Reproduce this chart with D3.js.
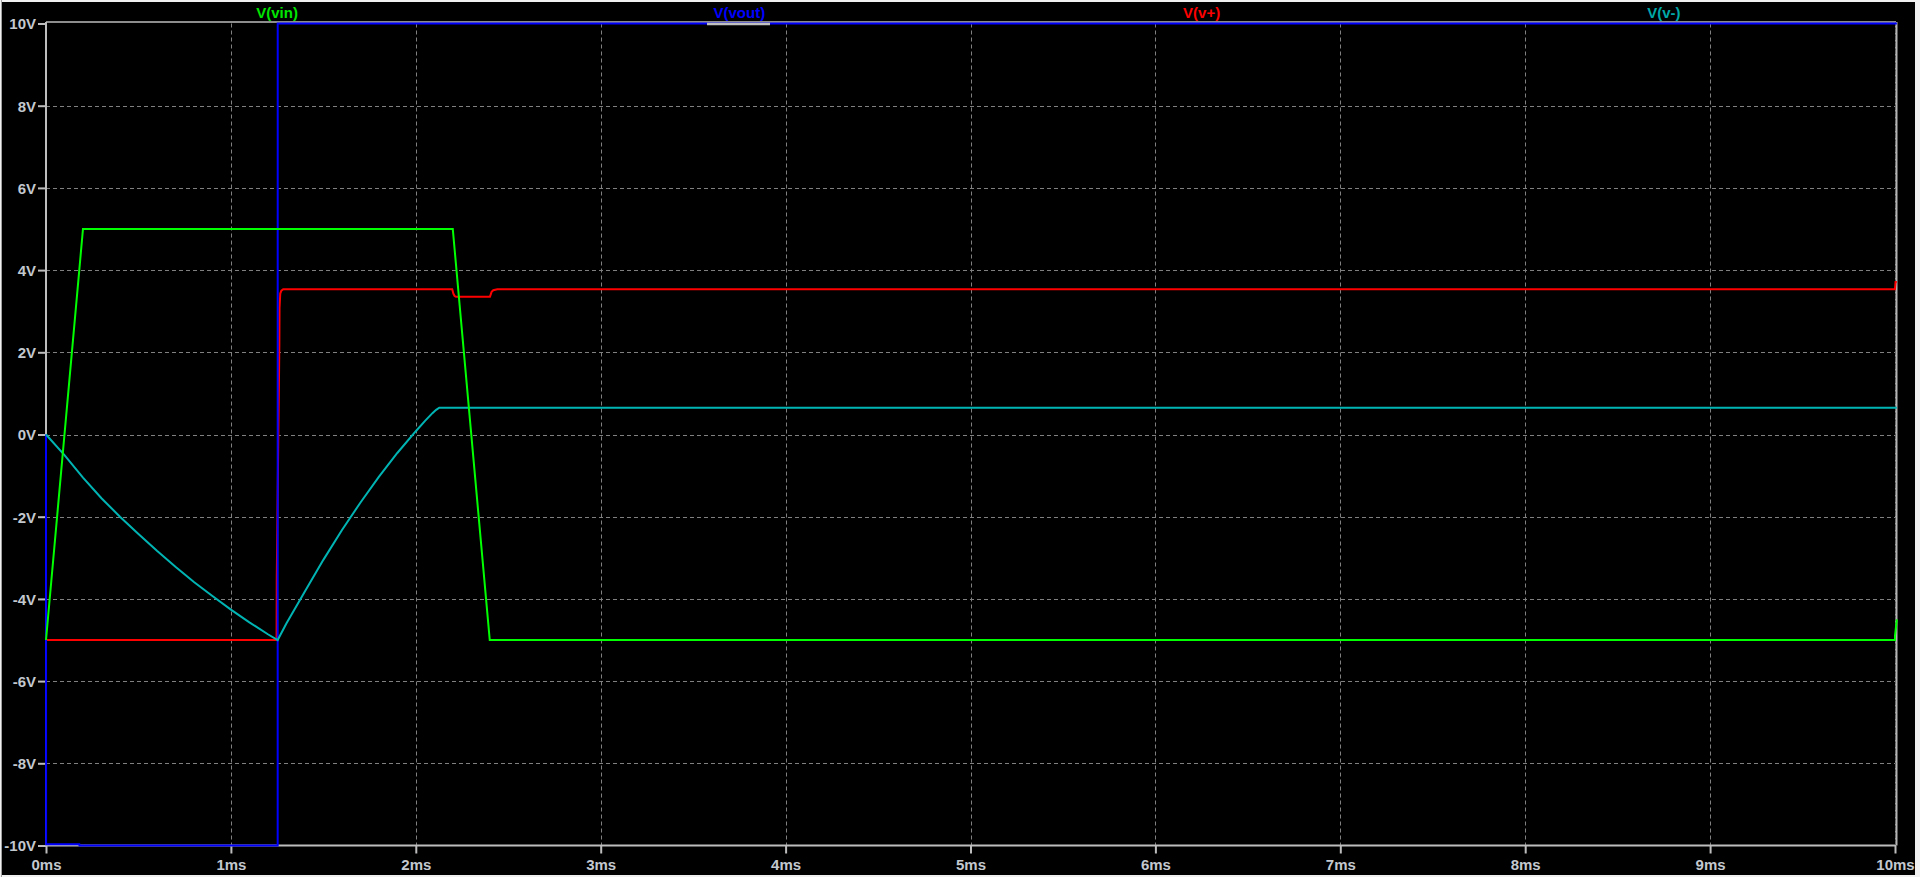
<!DOCTYPE html>
<html>
<head>
<meta charset="utf-8">
<script src="https://cdnjs.cloudflare.com/ajax/libs/d3/7.8.5/d3.min.js"></script>
<style>
  html, body { margin: 0; padding: 0; background: #f0f0f0; overflow: hidden; }
  svg { display: block; }
  .lbl { font-family: "Liberation Sans", Arial, sans-serif; font-weight: bold; font-size: 15px; fill: #c3c8cf; }
  .trace-name { font-family: "Liberation Sans", Arial, sans-serif; font-weight: bold; font-size: 15px; }
</style>
</head>
<body>
<div id="graph"></div>
<script>
// axis ticks
var timeTicks = [0, 1, 2, 3, 4, 5, 6, 7, 8, 9, 10];   // ms
var voltTicks = [10, 8, 6, 4, 2, 0, -2, -4, -6, -8, -10];

// traces: [time in ms, volts]
var vin = [[0, -5], [0.2, 5], [2.2, 5], [2.4, -5], [10, -5], [10, -4.9], [10.01, -4.5]];

var vout = [[0, 0], [0.0005, -9.97], [0.18, -9.97], [0.181, -10], [1.253, -10],
            [1.2532, 10], [10.01, 10]];

var vplus = [[0, -5], [1.247, -5], [1.248, -3.5], [1.262, 2.18], [1.263, 3.07],
             [1.267, 3.43], [1.273, 3.5], [1.283, 3.536], [2.197, 3.536], [2.203, 3.43],
             [2.21, 3.37], [2.217, 3.349], [2.401, 3.349], [2.41, 3.47], [2.419, 3.51],
             [2.441, 3.536], [10, 3.536], [10.003, 3.71], [10.01, 3.71]];

var vminus = [[0, 0], [0.1, -0.5], [0.2, -1.05], [0.3, -1.55], [0.4, -2.0], [0.5, -2.42],
              [0.6, -2.83], [0.7, -3.22], [0.8, -3.59], [0.9, -3.93], [1.0, -4.26],
              [1.1, -4.57], [1.2, -4.86], [1.253, -5.0], [1.3, -4.6], [1.4, -3.82],
              [1.5, -3.05], [1.6, -2.33], [1.7, -1.66], [1.8, -1.03], [1.9, -0.45],
              [2.0, 0.08], [2.05, 0.33], [2.09, 0.52], [2.11, 0.6], [2.127, 0.65],
              [10.01, 0.65]];

var traceNames = ["V(vin)", "V(vout)", "V(v+)", "V(v-)"];
var traceColors = ["#00ff00", "#0000ff", "#ff0000", "#00b4b4"];
var labelColors = ["#00e600", "#0000ff", "#ff0000", "#00a8a8"];

var W = 1920, H = 877;
var plot = {left: 46, right: 1895, top: 23.5, bottom: 845.5};

var x = d3.scaleLinear().domain([0, 10]).range([plot.left, plot.right]);
var y = d3.scaleLinear().domain([-10, 10]).range([plot.bottom, plot.top]);

var svg = d3.select("#graph").append("svg")
    .attr("width", W).attr("height", H);

// window frame
svg.append("rect").attr("x", 0).attr("y", 0).attr("width", W).attr("height", H).attr("fill", "#f0f0f0");
svg.append("rect").attr("x", 2).attr("y", 2).attr("width", 1913).attr("height", 873).attr("fill", "#000");
svg.append("line").attr("x1", 1.5).attr("x2", 1.5).attr("y1", 0).attr("y2", H)
    .attr("stroke", "#a0a0a0").attr("stroke-width", 1);

// grid
var grid = svg.append("g").attr("class", "grid")
    .attr("stroke", "#808080").attr("stroke-width", 1).attr("stroke-dasharray", "4,3");

grid.selectAll(".vg").data(timeTicks.filter(function(d){ return d > 0; }))
  .enter().append("line")
    .attr("x1", function(d){ return Math.round(x(d)) + 0.5; })
    .attr("x2", function(d){ return Math.round(x(d)) + 0.5; })
    .attr("y1", plot.top).attr("y2", plot.bottom);

grid.selectAll(".hg").data(voltTicks.filter(function(d){ return d > -10 && d < 10; }))
  .enter().append("line")
    .attr("y1", function(d){ return Math.round(y(d)) + 0.5; })
    .attr("y2", function(d){ return Math.round(y(d)) + 0.5; })
    .attr("x1", plot.left).attr("x2", plot.right);

// frame lines of the plot pane
var frameCol = "#bdbdbd";
svg.append("line").attr("x1", plot.left).attr("x2", plot.right + 1).attr("y1", 22).attr("y2", 22)
    .attr("stroke", frameCol).attr("stroke-width", 1.5);
svg.append("line").attr("x1", plot.left).attr("x2", plot.left).attr("y1", 22).attr("y2", plot.bottom)
    .attr("stroke", frameCol).attr("stroke-width", 2);
svg.append("line").attr("x1", plot.left).attr("x2", plot.right + 1).attr("y1", plot.bottom).attr("y2", plot.bottom)
    .attr("stroke", frameCol).attr("stroke-width", 2);
svg.append("line").attr("x1", plot.right + 1.5).attr("x2", plot.right + 1.5).attr("y1", 22).attr("y2", plot.bottom)
    .attr("stroke", "#b4b4b4").attr("stroke-width", 2);
svg.append("line").attr("x1", plot.right + 0.5).attr("x2", plot.right + 0.5).attr("y1", 22).attr("y2", plot.bottom)
    .attr("stroke", "#707070").attr("stroke-width", 1).attr("stroke-dasharray", "4,3");

// axes
var xAxis = d3.axisBottom(x).tickValues(timeTicks).tickSize(8).tickPadding(6)
    .tickFormat(function(d){ return d + "ms"; });
var yAxis = d3.axisLeft(y).tickValues(voltTicks).tickSize(8).tickPadding(2)
    .tickFormat(function(d){ return d + "V"; });

var gx = svg.append("g").attr("transform", "translate(0," + plot.bottom + ")").call(xAxis);
var gy = svg.append("g").attr("transform", "translate(" + plot.left + ",0)").call(yAxis);

[gx, gy].forEach(function(g){
  g.select(".domain").remove();
  g.selectAll(".tick line").attr("stroke", frameCol).attr("stroke-width", 2);
  g.selectAll(".tick text").attr("class", "lbl").attr("fill", null);
});
gx.selectAll(".tick text").attr("dy", "0.71em");
gy.selectAll(".tick text").attr("dy", "0.36em");

// traces
svg.append("clipPath").attr("id", "clip").append("rect")
    .attr("x", plot.left - 1).attr("y", 18).attr("width", plot.right - plot.left + 4).attr("height", plot.bottom - 14);

var line = d3.line()
    .x(function(d){ return x(d[0]); })
    .y(function(d){ return y(d[1]); });

var traces = svg.append("g").attr("clip-path", "url(#clip)").attr("fill", "none").attr("stroke-width", 2);

// draw order: v+, vout, v-, vin
var order = [[vplus, 2], [vout, 1], [vminus, 3], [vin, 0]];
order.forEach(function(o){
  traces.append("path").datum(o[0])
    .attr("d", line)
    .attr("stroke", traceColors[o[1]])
    .attr("stroke-linejoin", "miter");
});

// trace names along the top
var slot = (plot.right - plot.left) / traceNames.length;
svg.selectAll(".trace-name").data(traceNames)
  .enter().append("text")
    .attr("class", "trace-name")
    .attr("x", function(d, i){ return plot.left + slot * (i + 0.5); })
    .attr("y", 18)
    .attr("text-anchor", "middle")
    .attr("fill", function(d, i){ return labelColors[i]; })
    .text(function(d){ return d; });

// underline under the selected trace name
svg.append("line").attr("x1", 707).attr("x2", 770).attr("y1", 24).attr("y2", 24)
    .attr("stroke", "#c0c0c0").attr("stroke-width", 2.5);
</script>
</body>
</html>
